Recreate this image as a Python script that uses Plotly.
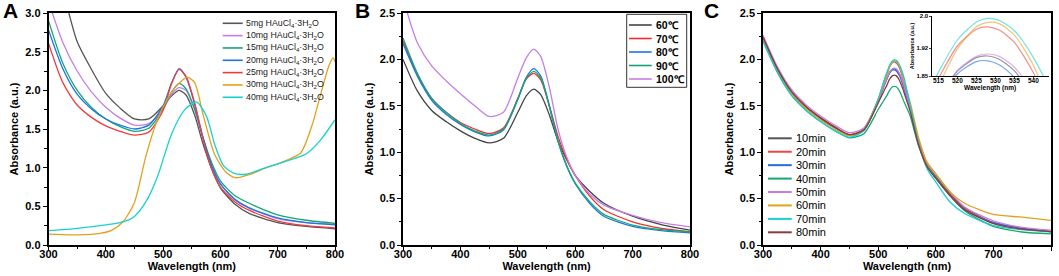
import plotly.graph_objects as go

W, H = 1059, 276
FIG_W = 1059
FONT = "Arial, 'Liberation Sans', Helvetica, sans-serif"

# ---------------- Panel A data ----------------
WL_A = [300, 325, 350, 375, 400, 425, 450, 475, 500, 515, 528, 540, 555, 570, 585, 600, 625, 650, 700, 750, 800]
A_5mg = [4.00, 3.30, 2.63, 2.27, 1.96, 1.77, 1.63, 1.63, 1.80, 1.93, 2.00, 1.94, 1.68, 1.30, 0.98, 0.74, 0.53, 0.41, 0.29, 0.24, 0.21]
A_10mg = [3.15, 2.62, 2.25, 1.98, 1.78, 1.64, 1.55, 1.57, 1.76, 1.95, 2.035, 2.00, 1.75, 1.36, 1.03, 0.79, 0.59, 0.48, 0.34, 0.29, 0.27]
A_15mg = [2.90, 2.35, 2.00, 1.78, 1.63, 1.53, 1.47, 1.51, 1.76, 1.98, 2.09, 2.02, 1.76, 1.38, 1.06, 0.83, 0.64, 0.54, 0.39, 0.32, 0.28]
A_20mg = [2.78, 2.28, 1.95, 1.76, 1.63, 1.55, 1.50, 1.55, 1.80, 2.10, 2.28, 2.17, 1.82, 1.38, 1.02, 0.79, 0.59, 0.48, 0.35, 0.29, 0.26]
A_25mg = [2.61, 2.10, 1.81, 1.65, 1.54, 1.47, 1.42, 1.46, 1.74, 2.09, 2.27, 2.18, 1.84, 1.36, 0.98, 0.75, 0.56, 0.45, 0.31, 0.25, 0.22]
WL_A_30 = [300, 340, 380, 410, 430, 450, 470, 490, 510, 525, 542, 555, 570, 590, 610, 626, 650, 680, 710, 740, 760, 775, 790, 797, 800]
A_30mg = [0.14, 0.13, 0.14, 0.19, 0.30, 0.55, 1.15, 1.62, 1.92, 2.07, 2.17, 2.10, 1.68, 1.17, 0.94, 0.87, 0.91, 1.00, 1.08, 1.19, 1.55, 1.95, 2.33, 2.42, 2.37]
WL_A_40 = [300, 350, 400, 430, 450, 470, 490, 515, 538, 558, 576, 590, 605, 623, 645, 675, 705, 750, 775, 800]
A_40mg = [0.185, 0.215, 0.26, 0.30, 0.37, 0.56, 0.88, 1.44, 1.75, 1.85, 1.66, 1.30, 1.03, 0.93, 0.915, 0.99, 1.06, 1.18, 1.36, 1.62]
A_NAMES = ["5mg", "10mg", "15mg", "20mg", "25mg", "30mg", "40mg"]
A_COLORS = ["#555555", "#c47fe6", "#17a673", "#1a74e2", "#f23c3c", "#e2a11c", "#17d0d0"]

# ---------------- Panel B data ----------------
WL_B = [300, 325, 350, 375, 400, 425, 450, 475, 500, 515, 528, 540, 555, 570, 585, 600, 625, 650, 700, 750, 800]
B_60 = [2.00, 1.66, 1.45, 1.33, 1.23, 1.15, 1.10, 1.15, 1.43, 1.61, 1.68, 1.62, 1.40, 1.12, 0.92, 0.75, 0.58, 0.45, 0.31, 0.22, 0.16]
B_70 = [2.20, 1.84, 1.58, 1.43, 1.32, 1.25, 1.20, 1.26, 1.58, 1.79, 1.85, 1.78, 1.50, 1.17, 0.93, 0.75, 0.53, 0.38, 0.25, 0.18, 0.145]
B_80 = [2.17, 1.82, 1.56, 1.41, 1.30, 1.22, 1.175, 1.24, 1.57, 1.81, 1.90, 1.82, 1.50, 1.12, 0.85, 0.66, 0.45, 0.31, 0.20, 0.155, 0.13]
B_90 = [2.23, 1.85, 1.58, 1.43, 1.31, 1.23, 1.185, 1.25, 1.57, 1.80, 1.87, 1.80, 1.49, 1.12, 0.86, 0.67, 0.47, 0.33, 0.215, 0.165, 0.14]
B_100 = [2.66, 2.18, 1.93, 1.77, 1.63, 1.50, 1.385, 1.43, 1.80, 2.02, 2.11, 2.03, 1.70, 1.25, 0.95, 0.75, 0.55, 0.43, 0.32, 0.24, 0.195]
B_NAMES = ["60℃", "70℃", "80℃", "90℃", "100℃"]
B_COLORS = ["#444444", "#f22c2c", "#1a78e0", "#17a673", "#c47fe6"]

# ---------------- Panel C data ----------------
WL_C = [300, 325, 350, 375, 400, 425, 450, 475, 500, 510, 515, 520, 525, 528, 531, 535, 540, 545, 555, 570, 585, 600, 625, 650, 700, 750, 800]
C_10 = [2.24, 1.90, 1.64, 1.48, 1.36, 1.26, 1.185, 1.24, 1.55, 1.71, 1.79, 1.862, 1.896, 1.900, 1.892, 1.863, 1.797, 1.70, 1.50, 1.12, 0.86, 0.74, 0.55, 0.40, 0.24, 0.18, 0.145]
C_20 = [2.24, 1.90, 1.65, 1.49, 1.37, 1.27, 1.19, 1.25, 1.57, 1.76, 1.844, 1.925, 1.967, 1.973, 1.965, 1.934, 1.858, 1.745, 1.52, 1.13, 0.86, 0.73, 0.54, 0.39, 0.24, 0.18, 0.145]
C_30 = [2.23, 1.89, 1.64, 1.48, 1.36, 1.26, 1.185, 1.24, 1.55, 1.72, 1.79, 1.855, 1.886, 1.888, 1.878, 1.846, 1.78, 1.68, 1.48, 1.10, 0.85, 0.72, 0.53, 0.38, 0.24, 0.18, 0.145]
C_40 = [2.20, 1.86, 1.61, 1.45, 1.33, 1.23, 1.155, 1.20, 1.46, 1.56, 1.61, 1.67, 1.705, 1.71, 1.705, 1.68, 1.62, 1.54, 1.40, 1.07, 0.85, 0.74, 0.53, 0.37, 0.20, 0.14, 0.12]
C_50 = [2.26, 1.92, 1.67, 1.51, 1.39, 1.29, 1.21, 1.26, 1.56, 1.72, 1.795, 1.864, 1.899, 1.905, 1.899, 1.872, 1.808, 1.71, 1.49, 1.13, 0.88, 0.76, 0.57, 0.41, 0.26, 0.19, 0.16]
C_60 = [2.22, 1.88, 1.63, 1.47, 1.35, 1.25, 1.175, 1.24, 1.57, 1.75, 1.826, 1.918, 1.973, 1.984, 1.981, 1.952, 1.877, 1.76, 1.55, 1.16, 0.89, 0.77, 0.57, 0.45, 0.33, 0.30, 0.265]
C_70 = [2.20, 1.87, 1.61, 1.45, 1.33, 1.23, 1.16, 1.23, 1.57, 1.77, 1.859, 1.940, 1.985, 1.994, 1.989, 1.963, 1.896, 1.80, 1.52, 1.10, 0.82, 0.68, 0.46, 0.34, 0.21, 0.165, 0.14]
C_80 = [2.24, 1.90, 1.65, 1.49, 1.37, 1.27, 1.19, 1.24, 1.53, 1.66, 1.72, 1.79, 1.825, 1.83, 1.825, 1.795, 1.73, 1.64, 1.45, 1.08, 0.84, 0.72, 0.53, 0.38, 0.23, 0.17, 0.145]
C_NAMES = ["10min", "20min", "30min", "40min", "50min", "60min", "70min", "80min"]
C_COLORS = ["#555555", "#f24444", "#1f6fe0", "#17a673", "#c47fe6", "#e2a11c", "#17d0cc", "#8b3b3b"]

X_TICKS = [300, 400, 500, 600, 700, 800]
X_LABELS = ["300", "400", "500", "600", "700", "800"]
INSET_TICKS = [515, 520, 525, 530, 535, 540]
INSET_Y_TICKS = [1.85, 1.92, 2.0]
INSET_Y_LABELS = ["1.85", "1.92", "2.0"]


def px(x):
    return x / FIG_W


def py(y):
    return 1 - y / H


fig = go.Figure()

line_kw = dict(shape="spline", smoothing=0.7, width=1.3)

a_series = [(WL_A, A_5mg), (WL_A, A_10mg), (WL_A, A_15mg), (WL_A, A_20mg), (WL_A, A_25mg),
            (WL_A_30, A_30mg), (WL_A_40, A_40mg)]
for (wl, vals), c in zip(a_series, A_COLORS):
    fig.add_trace(go.Scatter(x=wl, y=vals, mode="lines", line=dict(color=c, **line_kw),
                             xaxis="x", yaxis="y", showlegend=False))

for vals, c in zip([B_60, B_70, B_80, B_90, B_100], B_COLORS):
    fig.add_trace(go.Scatter(x=WL_B, y=vals, mode="lines", line=dict(color=c, **line_kw),
                             xaxis="x2", yaxis="y2", showlegend=False))

c_vals = [C_10, C_20, C_30, C_40, C_50, C_60, C_70, C_80]
for vals, c in zip(c_vals, C_COLORS):
    fig.add_trace(go.Scatter(x=WL_C, y=vals, mode="lines", line=dict(color=c, **line_kw),
                             xaxis="x3", yaxis="y3", showlegend=False))
# inset: same spectra, zoomed on the plasmon peak
for vals, c in zip(c_vals, C_COLORS):
    fig.add_trace(go.Scatter(x=WL_C, y=vals, mode="lines", opacity=0.6,
                             line=dict(color=c, shape="spline", smoothing=0.7, width=1.2),
                             xaxis="x4", yaxis="y4", showlegend=False))

tickfont = dict(family=FONT, size=11, color="black", weight="bold")
titlefont = dict(family=FONT, size=11, color="black", weight="bold")


def xax(domain, anchor, labels):
    return dict(domain=domain, anchor=anchor, range=[300, 800], tickmode="array", tickvals=X_TICKS,
                ticktext=labels, automargin=False,
                ticks="outside", ticklen=4, tickwidth=1.3, tickcolor="black",
                ticklabelstandoff=-6, ticklabeloverflow="allow",
                minor=dict(dtick=50, tick0=300, ticks="outside", ticklen=2.5, tickwidth=1.1, tickcolor="black"),
                showline=True, linecolor="black", linewidth=1.6, mirror=True,
                showgrid=False, zeroline=False, tickfont=tickfont,
                title=dict(text="Wavelength (nm)", font=titlefont, standoff=0))


def yax(domain, anchor, top):
    return dict(domain=domain, anchor=anchor, range=[0, top], dtick=0.5, tick0=0, tickformat=".1f",
                automargin=False, ticklabeloverflow="allow",
                ticks="outside", ticklen=4, tickwidth=1.3, tickcolor="black",
                minor=dict(dtick=0.25, tick0=0, ticks="outside", ticklen=2.5, tickwidth=1.1, tickcolor="black"),
                showline=True, linecolor="black", linewidth=1.6, mirror=True,
                showgrid=False, zeroline=False, tickfont=tickfont,
                title=dict(text="Absorbance (a.u.)", font=titlefont, standoff=4))


# panel C: its last tick label sits on the page edge, so it is written as a text label instead
C_LABELS = X_LABELS[:-1] + [""]

YD = [py(245), py(13)]
fig.update_layout(
    width=FIG_W, height=H, margin=dict(l=0, r=0, t=0, b=0, autoexpand=False),
    paper_bgcolor="white", plot_bgcolor="white", showlegend=False,
    font=dict(family=FONT, color="black"),
    xaxis=xax([px(48.5), px(335)], "y", X_LABELS), yaxis=yax(YD, "x", 3.0),
    xaxis2=xax([px(403), px(690)], "y2", X_LABELS), yaxis2=yax(YD, "x2", 2.5),
    xaxis3=xax([px(763), px(1051)], "y3", C_LABELS), yaxis3=yax(YD, "x3", 2.5),
    xaxis4=dict(domain=[px(932.3), px(1048.6)], anchor="y4", range=[513.4, 544], tickvals=INSET_TICKS,
                automargin=False, ticklabelstandoff=-4,
                ticks="outside", ticklen=2, tickwidth=0.8, showline=True, linecolor="black", linewidth=0.9,
                showgrid=False, zeroline=False,
                tickfont=dict(family=FONT, size=6.5, color="black", weight="bold")),
    yaxis4=dict(domain=[py(76), py(16)], anchor="x4", range=[1.85, 2.0], tickvals=INSET_Y_TICKS,
                automargin=False,
                ticktext=INSET_Y_LABELS, ticks="outside", ticklen=2, tickwidth=0.8,
                showline=True, linecolor="black", linewidth=0.9, showgrid=False, zeroline=False,
                tickfont=dict(family=FONT, size=6, color="black", weight="bold"),
                title=dict(text="Absorbance (a.u.)", font=dict(family=FONT, size=5.5, color="black", weight="bold"), standoff=1)),
)

# last tick label of panel C, drawn as a text trace at x = 800 just below the axis
fig.add_trace(go.Scatter(x=[X_TICKS[-1]], y=[-0.1], mode="text", text=[X_LABELS[-1]],
                         textposition="middle center", cliponaxis=False, hoverinfo="skip",
                         textfont=dict(family=FONT, size=11, color="black", weight="bold"),
                         xaxis="x3", yaxis="y3", showlegend=False))

annotations = []
shapes = []

# inset x-axis title
annotations.append(dict(text="Wavelength (nm)", x=0.5, xref="x4 domain", y=py(88), yref="paper",
                        xanchor="center", yanchor="middle", showarrow=False,
                        font=dict(family=FONT, size=6.5, color="black", weight="bold")))

# panel letters
for letter, x in [("A", 1), ("B", 353), ("C", 702)]:
    annotations.append(dict(text=letter, x=px(x), y=1.0, xref="paper", yref="paper", xanchor="left",
                            yanchor="top", showarrow=False, yshift=3,
                            font=dict(family=FONT, size=21, color="black", weight="bold")))


def legend(names, colors, xl0, xl1, xt, y0, dy, font, width=1.6):
    for i, (n, c) in enumerate(zip(names, colors)):
        y = y0 + i * dy
        shapes.append(dict(type="line", xref="paper", yref="paper", x0=px(xl0), x1=px(xl1),
                           y0=py(y), y1=py(y), line=dict(color=c, width=width)))
        annotations.append(dict(text=n, x=px(xt), y=py(y), xref="paper", yref="paper", xanchor="left",
                                yanchor="middle", showarrow=False, font=font))


legend([f"{n} HAuCl<sub>4</sub>·3H<sub>2</sub>O" for n in A_NAMES], A_COLORS, 222.7, 242.7, 244, 23.3, 12.33,
       dict(family=FONT, size=8.8, color="#222222"))

shapes.append(dict(type="rect", xref="paper", yref="paper", x0=px(626.7), x1=px(686.7), y0=py(87.3), y1=py(14.3),
                   line=dict(color="#333333", width=1), fillcolor="rgba(255,255,255,0)"))
legend(B_NAMES, B_COLORS, 629, 651.7, 653.5, 25, 13.5,
       dict(family=FONT, size=10.5, color="black", weight="bold"))

legend(C_NAMES, C_COLORS, 768, 791.7, 793.5, 138.3, 13.43,
       dict(family=FONT, size=11, color="black"), width=2)

fig.update_layout(annotations=annotations, shapes=shapes)

fig.write_html("out.html", config={"displayModeBar": False},
               post_script="document.body.style.margin='0px';document.body.style.overflow='hidden';")
